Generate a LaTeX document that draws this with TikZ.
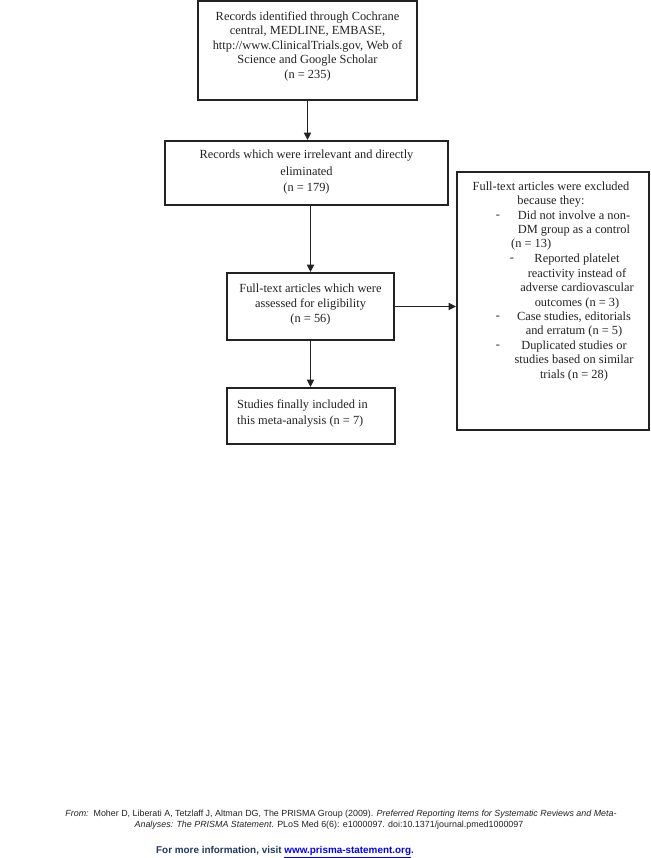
\documentclass[tikz,border=0pt]{standalone}
\usepackage{fontspec}
\setmainfont{Liberation Serif}
\setsansfont{Liberation Sans}
\usetikzlibrary{arrows.meta,calc}
\definecolor{navy}{HTML}{1F3864}
\definecolor{linkblue}{HTML}{0000FF}
\definecolor{ink}{HTML}{222222}
\begin{document}
\begin{tikzpicture}[x=1pt,y=-1pt,
  box/.style={draw=ink,line width=1.8pt,inner sep=0pt,align=center,text=ink,font=\fontsize{12.4}{14.5}\selectfont},
  txt/.style={inner sep=0pt,align=center,text=ink,font=\fontsize{12.4}{14.5}\selectfont},
  arr/.style={draw=ink,line width=1.8pt,-{Triangle[width=7pt,length=7.5pt]}},
  foot/.style={inner sep=0pt,text=ink,font=\sffamily\fontsize{8.9}{11}\selectfont}]
\useasboundingbox (0,0) rectangle (650,858);
% boxes
\node[box,minimum width=219pt,minimum height=99pt] (b1) at (307.5,50.5) {};
\node[txt] (b1t) at (307.5,46)
  {Records identified through Cochrane\\central, MEDLINE, EMBASE,\\http://www.ClinicalTrials.gov, Web of\\Science and Google Scholar\\(n = 235)};
\node[box,minimum width=283pt,minimum height=64pt] (b2) at (306.5,173) {};
\node[txt,font=\fontsize{12.4}{16.5}\selectfont] (b2t) at (306.5,172.5)
  {Records which were irrelevant and directly\\eliminated\\(n = 179)};
\node[box,minimum width=192pt,minimum height=258pt] (b3) at (553,301) {};
\node[box,minimum width=167pt,minimum height=67pt] (b4) at (310.5,306.5) {};
\node[txt,font=\fontsize{12.4}{15}\selectfont] (b4t) at (310.5,305)
  {Full-text articles which were\\assessed for eligibility\\(n = 56)};
\node[box,minimum width=168pt,minimum height=56pt] (b5) at (311,416) {};
\node[txt,anchor=west,align=left,font=\fontsize{12.4}{16}\selectfont] (b5t) at (237,413.5)
  {Studies finally included in\\this meta-analysis (n = 7)};
% exclusion box text
\node[txt] (h3) at (551,194.5) {Full-text articles were excluded\\because they:};
\node[txt] (d1) at (498,216.5) {-};
\node[txt] (i1) at (574,223.75) {Did not involve a non-\\DM group as a control};
\node[txt,anchor=west] (i1n) at (511,245) {(n = 13)};
\node[txt] (d2) at (512,260) {-};
\node[txt] (i2) at (577,281.5) {Reported platelet\\reactivity instead of\\adverse cardiovascular\\outcomes (n = 3)};
\node[txt] (d3) at (498,317.5) {-};
\node[txt] (i3) at (574,324.75) {Case studies, editorials\\and erratum (n = 5)};
\node[txt] (d4) at (498,346.5) {-};
\node[txt] (i4) at (574,361) {Duplicated studies or\\studies based on similar\\trials (n = 28)};
% connectors
\draw[arr] (b1.south) -- (b1.south |- b2.north);
\draw[arr] (b4.north |- b2.south) -- (b4.north);
\draw[arr] (b4.south) -- (b4.south |- b5.north);
\draw[arr] (b4.east) -- (b4.east -| b3.west);
% footer
\node[foot] (f1) at (341,814) {\textit{From:}\ \ Moher D, Liberati A, Tetzlaff J, Altman DG, The PRISMA Group (2009). \textit{Preferred Reporting Items for Systematic Reviews and Meta-}};
\node[foot] (f2) at (329,825.5) {\textit{Analyses: The PRISMA Statement}. PLoS Med 6(6): e1000097. doi:10.1371/journal.pmed1000097};
\node[foot,font=\sffamily\bfseries\fontsize{9.9}{11}\selectfont] (f3) at (285,852) {\textcolor{navy}{For more information, visit }\textcolor{linkblue}{\underline{www.prisma-statement.org}}\textcolor{navy}{.}};
\end{tikzpicture}
\end{document}
